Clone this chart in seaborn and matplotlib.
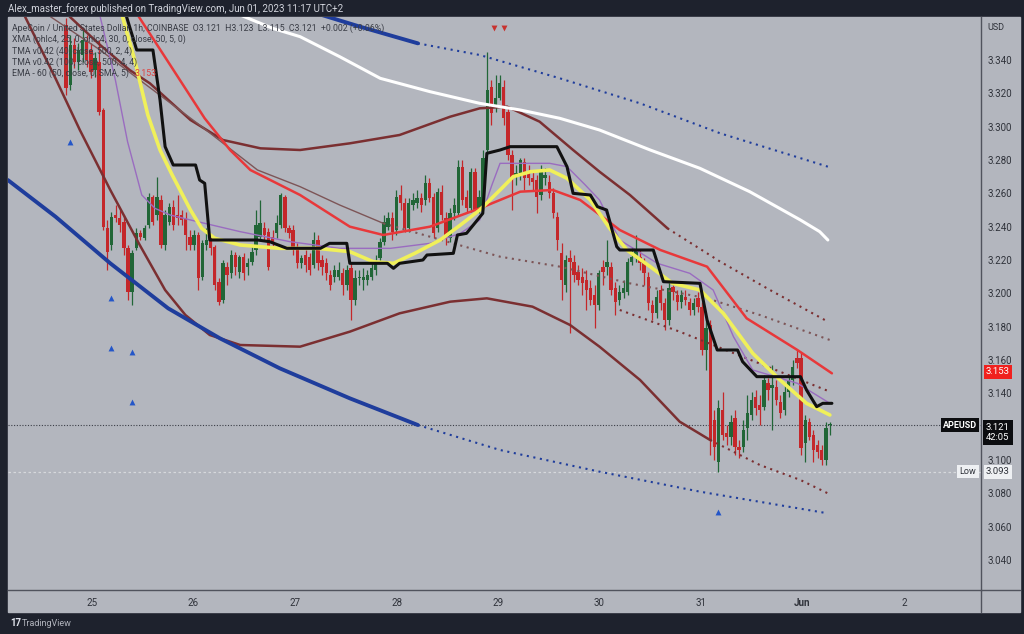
import numpy as np
import pandas as pd
import matplotlib
matplotlib.use("Agg")
import matplotlib.pyplot as plt
import matplotlib.transforms as mtransforms
import seaborn as sns

# APEUSD 1h candles (Coinbase), May 24 evening -> Jun 1 morning
opens = [3.361, 3.325, 3.349, 3.339, 3.343, 3.351, 3.346, 3.334, 3.339, 3.310,
         3.239, 3.229, 3.247, 3.245, 3.243, 3.227, 3.201, 3.227, 3.236, 3.233,
         3.241, 3.258, 3.247, 3.256, 3.229, 3.243, 3.252, 3.247, 3.247, 3.245,
         3.234, 3.229, 3.235, 3.210, 3.229, 3.232, 3.228, 3.207, 3.196, 3.216,
         3.212, 3.223, 3.213, 3.222, 3.216, 3.219, 3.226, 3.234, 3.239, 3.237,
         3.234, 3.236, 3.241, 3.258, 3.239, 3.238, 3.228, 3.218, 3.223, 3.222,
         3.217, 3.232, 3.220, 3.218, 3.211, 3.210, 3.210, 3.212, 3.205, 3.215,
         3.196, 3.209, 3.208, 3.208, 3.210, 3.214, 3.221, 3.231, 3.240, 3.245,
         3.238, 3.259, 3.254, 3.239, 3.253, 3.254, 3.257, 3.256, 3.266, 3.258,
         3.239, 3.261, 3.245, 3.233, 3.248, 3.248, 3.276, 3.258, 3.251, 3.273,
         3.250, 3.252, 3.286, 3.324, 3.312, 3.317, 3.324, 3.309, 3.283, 3.270,
         3.272, 3.279, 3.273, 3.269, 3.268, 3.259, 3.269, 3.267, 3.260, 3.246,
         3.224, 3.205, 3.221, 3.219, 3.213, 3.210, 3.208, 3.203, 3.199, 3.193,
         3.216, 3.216, 3.216, 3.203, 3.196, 3.200, 3.201, 3.219, 3.222, 3.222,
         3.218, 3.210, 3.193, 3.188, 3.202, 3.194, 3.184, 3.204, 3.199, 3.195,
         3.198, 3.195, 3.190, 3.197, 3.192, 3.166, 3.181, 3.124, 3.099, 3.130,
         3.116, 3.114, 3.125, 3.108, 3.108, 3.119, 3.127, 3.138, 3.133, 3.132,
         3.146, 3.143, 3.144, 3.135, 3.130, 3.141, 3.148, 3.161, 3.161, 3.110,
         3.123, 3.115, 3.109, 3.106, 3.100, 3.121]
highs = [3.365, 3.355, 3.353, 3.350, 3.358, 3.355, 3.350, 3.345, 3.352, 3.311,
         3.244, 3.249, 3.253, 3.250, 3.247, 3.229, 3.226, 3.239, 3.238, 3.241,
         3.260, 3.259, 3.270, 3.259, 3.250, 3.254, 3.256, 3.259, 3.250, 3.249,
         3.238, 3.238, 3.237, 3.232, 3.239, 3.235, 3.229, 3.209, 3.220, 3.219,
         3.226, 3.225, 3.223, 3.224, 3.221, 3.229, 3.250, 3.256, 3.243, 3.239,
         3.238, 3.247, 3.260, 3.259, 3.241, 3.241, 3.230, 3.223, 3.226, 3.224,
         3.237, 3.235, 3.223, 3.221, 3.214, 3.217, 3.219, 3.215, 3.217, 3.218,
         3.214, 3.214, 3.215, 3.214, 3.219, 3.223, 3.233, 3.247, 3.249, 3.249,
         3.262, 3.265, 3.257, 3.257, 3.260, 3.262, 3.260, 3.271, 3.269, 3.260,
         3.263, 3.265, 3.249, 3.251, 3.257, 3.280, 3.280, 3.262, 3.275, 3.275,
         3.262, 3.286, 3.345, 3.328, 3.331, 3.331, 3.328, 3.311, 3.286, 3.277,
         3.281, 3.281, 3.277, 3.273, 3.271, 3.277, 3.275, 3.271, 3.263, 3.249,
         3.230, 3.223, 3.226, 3.223, 3.217, 3.215, 3.214, 3.208, 3.205, 3.214,
         3.220, 3.232, 3.219, 3.207, 3.205, 3.208, 3.221, 3.228, 3.235, 3.226,
         3.221, 3.213, 3.196, 3.202, 3.205, 3.197, 3.207, 3.205, 3.202, 3.202,
         3.202, 3.197, 3.197, 3.201, 3.195, 3.184, 3.184, 3.130, 3.136, 3.141,
         3.121, 3.127, 3.130, 3.112, 3.124, 3.139, 3.141, 3.142, 3.139, 3.151,
         3.149, 3.157, 3.148, 3.139, 3.145, 3.151, 3.160, 3.166, 3.165, 3.127,
         3.125, 3.118, 3.112, 3.109, 3.123, 3.123]
lows = [3.319, 3.322, 3.335, 3.334, 3.339, 3.336, 3.329, 3.330, 3.307, 3.238,
        3.214, 3.226, 3.243, 3.237, 3.223, 3.196, 3.193, 3.226, 3.232, 3.232,
        3.239, 3.241, 3.244, 3.227, 3.226, 3.241, 3.238, 3.241, 3.241, 3.226,
        3.226, 3.226, 3.202, 3.208, 3.226, 3.223, 3.202, 3.193, 3.194, 3.205,
        3.209, 3.211, 3.209, 3.208, 3.211, 3.217, 3.223, 3.232, 3.232, 3.214,
        3.227, 3.233, 3.239, 3.237, 3.233, 3.223, 3.215, 3.215, 3.213, 3.211,
        3.215, 3.214, 3.211, 3.208, 3.202, 3.207, 3.208, 3.199, 3.202, 3.184,
        3.193, 3.205, 3.202, 3.205, 3.208, 3.211, 3.219, 3.229, 3.238, 3.232,
        3.235, 3.250, 3.237, 3.237, 3.250, 3.251, 3.249, 3.253, 3.255, 3.233,
        3.237, 3.244, 3.229, 3.231, 3.244, 3.247, 3.253, 3.249, 3.249, 3.248,
        3.248, 3.250, 3.283, 3.301, 3.309, 3.316, 3.301, 3.280, 3.250, 3.265,
        3.268, 3.262, 3.265, 3.262, 3.248, 3.256, 3.265, 3.257, 3.245, 3.226,
        3.196, 3.201, 3.176, 3.207, 3.205, 3.199, 3.190, 3.193, 3.179, 3.190,
        3.205, 3.211, 3.199, 3.187, 3.193, 3.197, 3.199, 3.217, 3.219, 3.214,
        3.205, 3.190, 3.184, 3.185, 3.190, 3.178, 3.181, 3.196, 3.190, 3.191,
        3.193, 3.187, 3.187, 3.189, 3.163, 3.154, 3.103, 3.100, 3.093, 3.112,
        3.109, 3.109, 3.103, 3.101, 3.105, 3.112, 3.124, 3.127, 3.121, 3.130,
        3.136, 3.118, 3.133, 3.125, 3.127, 3.138, 3.145, 3.155, 3.103, 3.099,
        3.112, 3.099, 3.101, 3.097, 3.097, 3.115]
closes = [3.323, 3.349, 3.339, 3.346, 3.352, 3.340, 3.333, 3.341, 3.309, 3.240,
          3.225, 3.246, 3.245, 3.241, 3.227, 3.201, 3.224, 3.236, 3.234, 3.239,
          3.258, 3.243, 3.258, 3.229, 3.247, 3.252, 3.241, 3.245, 3.244, 3.235,
          3.229, 3.235, 3.209, 3.230, 3.232, 3.227, 3.205, 3.195, 3.218, 3.211,
          3.223, 3.216, 3.222, 3.212, 3.218, 3.225, 3.241, 3.242, 3.235, 3.216,
          3.231, 3.242, 3.259, 3.239, 3.236, 3.227, 3.218, 3.221, 3.217, 3.214,
          3.232, 3.218, 3.216, 3.212, 3.205, 3.214, 3.214, 3.205, 3.214, 3.196,
          3.209, 3.210, 3.210, 3.211, 3.215, 3.220, 3.231, 3.243, 3.245, 3.237,
          3.258, 3.254, 3.239, 3.254, 3.256, 3.257, 3.253, 3.266, 3.257, 3.236,
          3.261, 3.247, 3.234, 3.248, 3.253, 3.276, 3.256, 3.251, 3.273, 3.250,
          3.258, 3.281, 3.322, 3.308, 3.317, 3.326, 3.305, 3.283, 3.269, 3.272,
          3.280, 3.269, 3.269, 3.267, 3.258, 3.273, 3.271, 3.260, 3.248, 3.232,
          3.208, 3.220, 3.219, 3.211, 3.208, 3.206, 3.202, 3.196, 3.193, 3.212,
          3.213, 3.219, 3.202, 3.195, 3.201, 3.203, 3.219, 3.222, 3.226, 3.218,
          3.212, 3.194, 3.188, 3.198, 3.194, 3.184, 3.203, 3.201, 3.195, 3.199,
          3.196, 3.190, 3.194, 3.192, 3.166, 3.179, 3.112, 3.108, 3.131, 3.115,
          3.114, 3.123, 3.108, 3.106, 3.118, 3.128, 3.136, 3.131, 3.130, 3.148,
          3.142, 3.145, 3.136, 3.128, 3.141, 3.148, 3.156, 3.158, 3.107, 3.124,
          3.114, 3.106, 3.105, 3.100, 3.119, 3.121]
first_bar, last_bar = 24.744, 32.271   # day of May (Jun 1 = 32)

# indicator lines (day of May, price)
ema_days = [25.45, 25.77, 26.11, 26.36, 26.56, 27.05, 27.54, 27.87, 28.33, 28.82,
            29.22, 29.54, 29.81, 30.20, 30.60, 31.06, 31.45, 31.95, 32.29]
ema_vals = [3.367, 3.337, 3.305, 3.286, 3.274, 3.259, 3.240, 3.235, 3.240, 3.251,
            3.261, 3.262, 3.256, 3.238, 3.226, 3.216, 3.185, 3.166, 3.152]
yellow_days = [25.30, 25.42, 25.55, 25.67, 25.79, 25.97, 26.08, 26.21, 26.46, 26.85,
               27.22, 27.54, 27.77, 27.97, 28.18, 28.43, 28.63, 28.82, 29.02, 29.15,
               29.32, 29.51, 29.68, 29.91, 30.10, 30.27, 30.50, 30.72, 30.99, 31.22,
               31.51, 31.78, 32.04, 32.27]
yellow_vals = [3.366, 3.340, 3.307, 3.286, 3.271, 3.250, 3.239, 3.233, 3.229, 3.227,
               3.227, 3.225, 3.219, 3.218, 3.224, 3.232, 3.241, 3.250, 3.262, 3.270,
               3.273, 3.274, 3.269, 3.256, 3.239, 3.226, 3.216, 3.206, 3.202, 3.188,
               3.164, 3.148, 3.134, 3.127]
purple_days = [25.08, 25.23, 25.35, 25.49, 25.62, 25.77, 25.97, 26.46, 26.95, 27.44,
               27.94, 28.33, 28.63, 28.82, 28.94, 29.02, 29.51, 29.68, 29.86, 30.00,
               30.20, 30.57, 30.89, 31.12, 31.32, 31.51, 31.95, 32.27]
purple_vals = [3.366, 3.328, 3.291, 3.259, 3.251, 3.247, 3.244, 3.237, 3.231, 3.227,
               3.227, 3.230, 3.236, 3.244, 3.265, 3.278, 3.278, 3.276, 3.265, 3.256,
               3.232, 3.218, 3.212, 3.202, 3.174, 3.154, 3.146, 3.134]
xma_days = [25.34, 25.44, 25.60, 25.67, 25.72, 25.80, 26.02, 26.06, 26.11, 26.16,
            26.63, 26.75, 26.92, 27.25, 27.34, 27.51, 27.54, 27.91, 27.97, 28.03,
            28.26, 28.30, 28.56, 28.60, 28.69, 28.85, 28.89, 29.02, 29.12, 29.58,
            29.68, 29.74, 29.91, 29.98, 30.07, 30.17, 30.20, 30.53, 30.63, 30.99,
            31.06, 31.16, 31.36, 31.41, 31.55, 31.98, 32.04, 32.14, 32.20, 32.29]
xma_vals = [3.366, 3.346, 3.346, 3.316, 3.288, 3.277, 3.277, 3.268, 3.266, 3.232,
            3.232, 3.231, 3.227, 3.227, 3.230, 3.230, 3.218, 3.218, 3.215, 3.218,
            3.220, 3.223, 3.224, 3.235, 3.236, 3.248, 3.284, 3.286, 3.288, 3.288,
            3.276, 3.260, 3.259, 3.252, 3.250, 3.228, 3.226, 3.226, 3.207, 3.206,
            3.184, 3.166, 3.166, 3.159, 3.150, 3.150, 3.142, 3.132, 3.134, 3.134]
tma_up_days = [24.78, 25.08, 25.37, 25.57, 25.97, 26.29, 26.66, 27.05, 27.54, 28.03,
               28.53, 28.82, 29.09, 29.41, 29.74, 30.00, 30.30, 30.67]
tma_up_vals = [3.366, 3.349, 3.334, 3.326, 3.304, 3.292, 3.287, 3.286, 3.290, 3.295,
               3.306, 3.311, 3.312, 3.303, 3.286, 3.273, 3.259, 3.239]
tma_up_proj_days = [30.67, 31.19, 31.68, 31.98, 32.25]
tma_up_proj_vals = [3.239, 3.219, 3.202, 3.192, 3.183]
tma_lo_days = [24.34, 24.64, 24.88, 25.18, 25.47, 25.72, 25.92, 26.16, 26.46, 27.05,
               27.54, 28.03, 28.53, 28.89, 29.34, 29.71, 30.00, 30.40, 30.79, 31.09]
tma_lo_vals = [3.366, 3.329, 3.298, 3.262, 3.229, 3.202, 3.187, 3.175, 3.169, 3.168,
               3.177, 3.188, 3.195, 3.197, 3.192, 3.181, 3.168, 3.148, 3.123, 3.112]
tma_lo_proj_days = [31.09, 31.58, 31.98, 32.25]
tma_lo_proj_vals = [3.112, 3.097, 3.088, 3.080]
tma_mid_days = [24.59, 25.08, 25.47, 26.06, 26.63, 27.05, 27.44, 27.87]
tma_mid_vals = [3.366, 3.346, 3.328, 3.301, 3.274, 3.264, 3.253, 3.242]
tma_mid_proj_days = [27.87, 28.50, 29.02, 29.61, 30.30, 31.06, 31.58, 32.27]
tma_mid_proj_vals = [3.242, 3.231, 3.222, 3.216, 3.206, 3.197, 3.187, 3.172]
tma_c_proj_days = [30.20, 30.79, 31.45, 32.27]
tma_c_proj_vals = [3.190, 3.177, 3.161, 3.141]
blue_lo_days = [24.17, 24.64, 25.18, 25.75, 26.26, 26.85, 27.54, 28.21]
blue_lo_vals = [3.268, 3.246, 3.218, 3.191, 3.173, 3.155, 3.137, 3.121]
blue_lo_proj_days = [28.21, 29.02, 30.00, 30.99, 32.25]
blue_lo_proj_vals = [3.121, 3.106, 3.093, 3.081, 3.068]
blue_up_days = [27.05, 27.64, 28.21]
blue_up_vals = [3.371, 3.360, 3.350]
blue_up_proj_days = [28.21, 28.82, 29.61, 30.40, 31.19, 31.88, 32.25]
blue_up_proj_vals = [3.350, 3.343, 3.329, 3.314, 3.296, 3.283, 3.276]
white_days = [26.46, 26.78, 27.05, 27.44, 27.84, 28.33, 28.82, 29.22, 29.61, 30.00,
              30.50, 30.99, 31.48, 31.98, 32.17, 32.25]
white_vals = [3.367, 3.359, 3.354, 3.342, 3.329, 3.321, 3.314, 3.310, 3.305, 3.298,
              3.286, 3.275, 3.261, 3.244, 3.237, 3.232]
buy_days = [24.78, 25.19, 25.19, 25.39, 25.39, 31.17]
buy_vals = [3.291, 3.197, 3.167, 3.165, 3.135, 3.069]
sell_days = [28.96, 29.06]
sell_vals = [3.359, 3.359]

last_price = 3.121
low_price = 3.093
ema_last = 3.153
price_ticks = [3.04, 3.06, 3.08, 3.10, 3.14, 3.16, 3.18, 3.20, 3.22,
               3.24, 3.26, 3.28, 3.30, 3.32, 3.34]
day_ticks = [25, 26, 27, 28, 29, 30, 31, 32, 33]
day_labels = ["25", "26", "27", "28", "29", "30", "31", "Jun", "2"]

# colours
BG_DARK = "#1e222d"
PANEL = "#b3b6be"
GREEN = "#216637"
RED = "#c4272a"

sns.set_style("white")
plt.rcParams["font.family"] = ["Roboto", "DejaVu Sans"]

W, H = 1024, 634
fig = plt.figure(figsize=(W / 100, H / 100), dpi=100, facecolor=BG_DARK)


def fx(px):
    return px / W


def fy(py):
    return 1 - py / H


# light chart panel incl. price/time scales (behind the axes)
fig.patches.append(plt.Rectangle((fx(8), fy(612)), fx(1012), (612 - 17) / H,
                                 transform=fig.transFigure, color=PANEL, zorder=-5))

ax = fig.add_axes([fx(8), fy(590), fx(973), (590 - 17) / H])
ax.set_facecolor(PANEL)
ax.set_xlim(24.172, 33.759)
ax.set_ylim(3.022, 3.3658)

# candles
df = pd.DataFrame({"day": np.linspace(first_bar, last_bar, len(closes)),
                   "open": opens, "high": highs, "low": lows, "close": closes})
cols = np.where(df["close"] >= df["open"], GREEN, RED)
ax.vlines(df["day"], df["low"], df["high"], colors=cols, linewidth=0.9, zorder=2)
body_low = df[["open", "close"]].min(axis=1)
body_h = (df["close"] - df["open"]).abs().clip(lower=0.0007)
ax.bar(df["day"], body_h, bottom=body_low, width=0.033, color=cols,
       linewidth=0, zorder=2.5)

DOT = (0, (1, 2.2))
lines = [
    (tma_up_days, tma_up_vals, "#7b2f31", 1.8, "-"),
    (tma_up_proj_days, tma_up_proj_vals, "#7b2f31", 1.5, DOT),
    (tma_lo_days, tma_lo_vals, "#7b2f31", 1.8, "-"),
    (tma_lo_proj_days, tma_lo_proj_vals, "#7b2f31", 1.5, DOT),
    (tma_mid_days, tma_mid_vals, "#7d5557", 1.0, "-"),
    (tma_mid_proj_days, tma_mid_proj_vals, "#7d5557", 1.5, DOT),
    (tma_c_proj_days, tma_c_proj_vals, "#7b2f31", 1.5, DOT),
    (blue_lo_days, blue_lo_vals, "#1f3d9c", 2.8, "-"),
    (blue_lo_proj_days, blue_lo_proj_vals, "#1f3d9c", 1.5, DOT),
    (blue_up_days, blue_up_vals, "#1f3d9c", 2.8, "-"),
    (blue_up_proj_days, blue_up_proj_vals, "#1f3d9c", 1.5, DOT),
    (white_days, white_vals, "#ffffff", 2.2, "-"),
    (purple_days, purple_vals, "#9a6cc0", 1.0, "-"),
    (ema_days, ema_vals, "#e8383a", 1.8, "-"),
    (yellow_days, yellow_vals, "#f0f05a", 2.6, "-"),
    (xma_days, xma_vals, "#111111", 2.2, "-"),
]
for days, vals, color, lw, ls in lines:
    sns.lineplot(x=days, y=vals, ax=ax, color=color, linewidth=lw, linestyle=ls,
                 estimator=None, sort=False, zorder=3)

sns.scatterplot(x=buy_days, y=buy_vals, ax=ax, marker="^", s=18, color="#2456c8",
                linewidth=0, zorder=4)
sns.scatterplot(x=sell_days, y=sell_vals, ax=ax, marker="v", s=18, color="#c8322f",
                linewidth=0, zorder=4)

# price line and session low
ax.axhline(last_price, color="#3c3f48", linewidth=0.8, linestyle=(0, (1, 1.5)), zorder=1.5)
ax.axhline(low_price, color="#d6d8dc", linewidth=0.9, linestyle=(0, (2, 2)), zorder=1.5)

# axes formatting
ax.set_xlabel("")
ax.set_ylabel("")
ax.yaxis.tick_right()
ax.set_yticks(price_ticks)
ax.set_yticklabels([f"{v:.3f}" for v in price_ticks])
ax.set_xticks(day_ticks)
ax.set_xticklabels(day_labels)
ax.tick_params(axis="y", length=0, pad=5, labelsize=7, labelcolor="#2f323a")
ax.tick_params(axis="x", length=0, pad=6, labelsize=7, labelcolor="#2f323a")
for lab in ax.get_xticklabels():
    if lab.get_text() == "Jun":
        lab.set_fontweight("bold")
for side in ["top", "left"]:
    ax.spines[side].set_visible(False)
for side in ["right", "bottom"]:
    ax.spines[side].set_color("#50535d")
    ax.spines[side].set_linewidth(1.0)

# scale separators extending into the time/price scale corner
fig.add_artist(plt.Line2D([fx(981), fx(981)], [fy(590), fy(612)], color="#50535d", lw=1.0))
fig.add_artist(plt.Line2D([fx(981), fx(1020)], [fy(590), fy(590)], color="#50535d", lw=1.0))

# header and footer
fig.text(fx(8), fy(9), "Alex_master_forex published on TradingView.com, Jun 01, 2023 11:17 UTC+2",
         color="#d1d4dc", fontsize=7, va="center", ha="left")
fig.text(fx(10), fy(623), "17", color="#e0e3eb", fontsize=7, fontweight="bold", va="center")
fig.text(fx(22), fy(623), "TradingView", color="#b2b5be", fontsize=6.5, va="center")

# legend block
legend_rows = [
    "ApeCoin / United States Dollar, 1h, COINBASE  O3.121  H3.123  L3.115  C3.121  +0.002 (+0.06%)",
    "XMA (ohlc4, 25, 0, ohlc4, 30, 0, close, 50, 5, 0)",
    "TMA v0.42 (40, close, 500, 2, 4)",
    "TMA v0.42 (100, close, 500, 4, 4)",
    "EMA - 60 (50, close, 0, SMA, 5)",
]
row_texts = []
for i, row in enumerate(legend_rows):
    row_texts.append(fig.text(fx(12), fy(28 + 11.4 * i), row, color="#3a3d46",
                              fontsize=6.3, va="center", zorder=5))
fig.canvas.draw()
ax.annotate(f"{ema_last:.3f}", xy=(1, 0.5), xycoords=row_texts[-1], xytext=(4, 0),
            textcoords="offset points", va="center", color="#e0413f", fontsize=6.3,
            annotation_clip=False)

# price scale tags
tag = mtransforms.blended_transform_factory(fig.transFigure, ax.transData)
fig.text(fx(996), fy(28), "USD", color="#2f323a", fontsize=6.5, ha="center", va="center")
fig.text(fx(998), ema_last, f"{ema_last:.3f}", transform=tag, color="white", fontsize=6.8,
         ha="center", va="center",
         bbox=dict(boxstyle="square,pad=0.25", fc="#f0201e", ec="none"))
fig.text(fx(998), last_price - 0.0045, f"{last_price:.3f}\n42:05", transform=tag, color="white",
         fontsize=6.8, ha="center", va="center", linespacing=1.1,
         bbox=dict(boxstyle="square,pad=0.3", fc="#0c0d10", ec="none"))
fig.text(fx(960), last_price, "APEUSD", transform=tag, color="white", fontsize=6.5,
         fontweight="bold", ha="center", va="center",
         bbox=dict(boxstyle="square,pad=0.25", fc="#0c0d10", ec="none"))
fig.text(fx(998), low_price, f"{low_price:.3f}", transform=tag, color="#2f323a", fontsize=6.8,
         ha="center", va="center", bbox=dict(boxstyle="square,pad=0.25", fc="#eef0f3", ec="none"))
fig.text(fx(968), low_price, "Low", transform=tag, color="#2f323a", fontsize=6.5,
         ha="center", va="center", bbox=dict(boxstyle="square,pad=0.25", fc="#eef0f3", ec="none"))

fig.savefig("out.png", dpi=100, facecolor=BG_DARK)
